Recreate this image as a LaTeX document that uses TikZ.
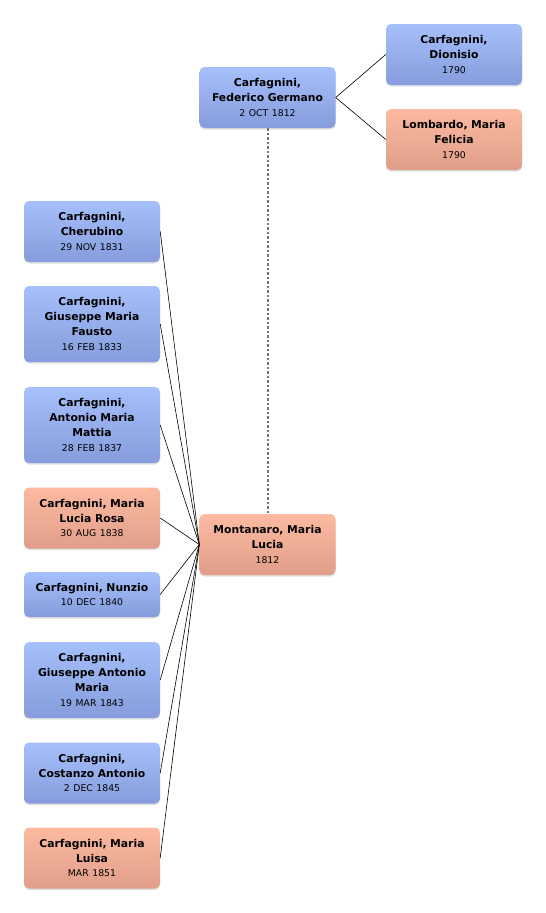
\documentclass[tikz,border=0pt]{standalone}
\usepackage{fontspec}
\setmainfont{DejaVu Sans}
\usetikzlibrary{shadows}
\definecolor{btop}{HTML}{A6C0FB}
\definecolor{bbot}{HTML}{869CDC}
\definecolor{ptop}{HTML}{FDBAA1}
\definecolor{pbot}{HTML}{E09E8A}
\begin{document}
\begin{tikzpicture}[x=1pt,y=-1pt,
  person/.style={rectangle, rounded corners=5pt, minimum width=136pt, text width=130pt,
    align=center, inner sep=2pt, font=\fontsize{10.8}{14.8}\selectfont,
    drop shadow={shadow xshift=0pt, shadow yshift=-1.5pt, opacity=0.25, fill=gray}},
  male/.style={person, top color=btop, bottom color=bbot},
  female/.style={person, top color=ptop, bottom color=pbot},
  link/.style={draw=black, line width=0.6pt},
  spouse/.style={draw=black!55, line width=2pt, dash pattern=on 2.5pt off 2pt}]
\useasboundingbox (0,0) rectangle (546,913);
\newcommand{\dt}[1]{{\fontsize{9.3}{12.5}\selectfont #1}}
% parents
\node[male, minimum height=61pt] (fed) at (267.5,97.5) {\textbf{Carfagnini,}\\\textbf{Federico Germano}\\\dt{2 OCT 1812}};
\node[female, minimum height=61pt] (mon) at (267.5,544.5) {\textbf{Montanaro, Maria}\\\textbf{Lucia}\\\dt{1812}};
% grandparents
\node[male, minimum height=61pt] (dio) at (454,54.5) {\textbf{Carfagnini,}\\\textbf{Dionisio}\\\dt{1790}};
\node[female, minimum height=61pt] (lom) at (454,139.5) {\textbf{Lombardo, Maria}\\\textbf{Felicia}\\\dt{1790}};
% children
\node[male, minimum height=61pt] (c1) at (92,231.5) {\textbf{Carfagnini,}\\\textbf{Cherubino}\\\dt{29 NOV 1831}};
\node[male, minimum height=76pt] (c2) at (92,324) {\textbf{Carfagnini,}\\\textbf{Giuseppe Maria}\\\textbf{Fausto}\\\dt{16 FEB 1833}};
\node[male, minimum height=76pt] (c3) at (92,425) {\textbf{Carfagnini,}\\\textbf{Antonio Maria}\\\textbf{Mattia}\\\dt{28 FEB 1837}};
\node[female, minimum height=61pt] (c4) at (92,518) {\textbf{Carfagnini, Maria}\\\textbf{Lucia Rosa}\\\dt{30 AUG 1838}};
\node[male, minimum height=45pt] (c5) at (92,594.5) {\textbf{Carfagnini, Nunzio}\\\dt{10 DEC 1840}};
\node[male, minimum height=76pt] (c6) at (92,680) {\textbf{Carfagnini,}\\\textbf{Giuseppe Antonio}\\\textbf{Maria}\\\dt{19 MAR 1843}};
\node[male, minimum height=61pt] (c7) at (92,773) {\textbf{Carfagnini,}\\\textbf{Costanzo Antonio}\\\dt{2 DEC 1845}};
\node[female, minimum height=61pt] (c8) at (92,858) {\textbf{Carfagnini, Maria}\\\textbf{Luisa}\\\dt{MAR 1851}};
% connectors
\draw[spouse] (fed.south) -- (mon.north);
\draw[link] (fed.east) -- (dio.west);
\draw[link] (fed.east) -- (lom.west);
\foreach \c in {c1,c2,c3,c4,c5,c6,c7,c8}
  \draw[link] (\c.east) -- (mon.west);
\end{tikzpicture}
\end{document}
